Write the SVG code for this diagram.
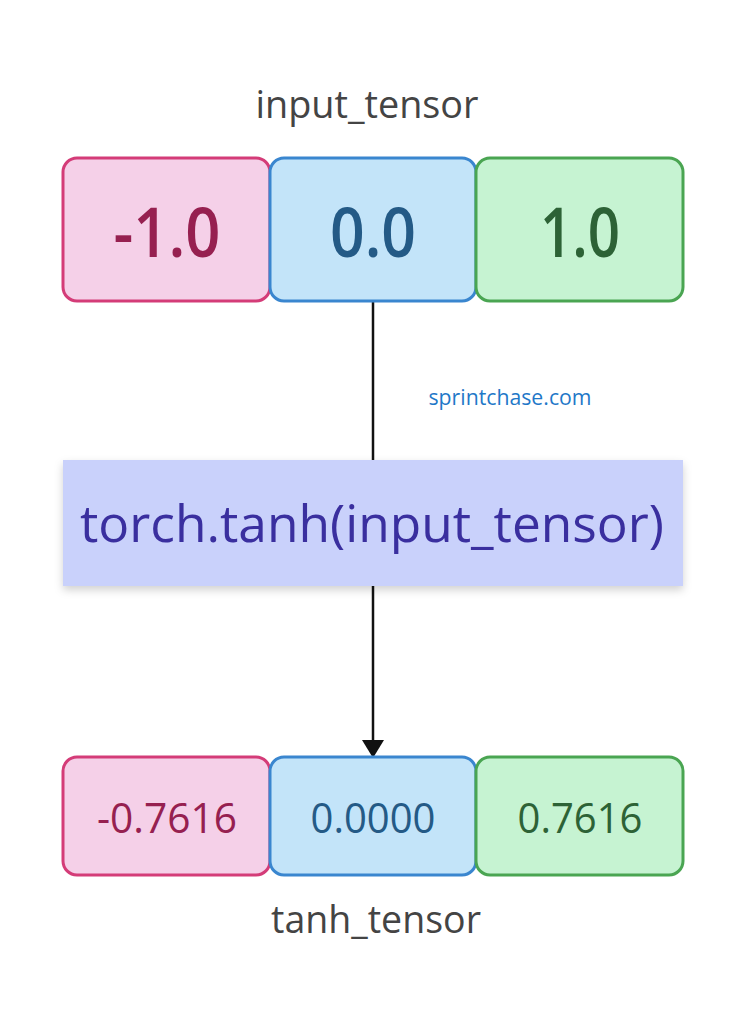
<svg xmlns="http://www.w3.org/2000/svg" width="746" height="1024" viewBox="0 0 746 1024">
<defs>
<style>
text{font-family:"Open Sans","Noto Sans","DejaVu Sans",sans-serif;text-anchor:middle;font-weight:500}
.lbl{font-size:38px;fill:#444444}
.big{font-size:68px;font-weight:600}
.small{font-size:42px}
.pink rect{fill:#f5d0e8;stroke:#d43c78;stroke-width:3}
.pink text{fill:#962050}
.blue rect{fill:#c3e4f9;stroke:#3a86cf;stroke-width:3}
.blue text{fill:#245a86}
.green rect{fill:#c6f3d2;stroke:#4aa552;stroke-width:3}
.green text{fill:#2d6236}
.conn{stroke:#111111;stroke-width:2.5;fill:none}
</style>
<filter id="sh" x="-5%" y="-10%" width="110%" height="130%">
<feDropShadow dx="0" dy="4" stdDeviation="4" flood-color="#000" flood-opacity="0.18"/>
</filter>
</defs>
<rect width="746" height="1024" fill="#ffffff"/>

<g id="label-input"><text class="lbl" x="367" y="118" textLength="223" lengthAdjust="spacingAndGlyphs">input_tensor</text></g>

<g id="connectors">
<line class="conn" x1="373" y1="302" x2="373" y2="460"/>
<path d="M373,586 L373,740" class="conn"/>
<path d="M362,740 L384,740 L373,758 z" fill="#111111"/>
</g>

<g id="in0" class="pink"><rect x="63" y="158" width="207" height="143" rx="14"/><text class="big" x="167" y="257" textLength="107" lengthAdjust="spacingAndGlyphs">-1.0</text></g>
<g id="in1" class="blue"><rect x="270" y="158" width="206" height="143" rx="14"/><text class="big" x="373" y="257" textLength="86" lengthAdjust="spacingAndGlyphs">0.0</text></g>
<g id="in2" class="green"><rect x="476" y="158" width="207" height="143" rx="14"/><text class="big" x="580" y="257" textLength="80" lengthAdjust="spacingAndGlyphs">1.0</text></g>

<g id="watermark"><text x="510" y="405" style="font-size:21px;fill:#1f78c8" textLength="163" lengthAdjust="spacingAndGlyphs">sprintchase.com</text></g>

<g id="op"><rect x="63" y="460" width="620" height="126" fill="#c9d1fb" filter="url(#sh)"/><text x="372" y="542" style="font-size:52px;fill:#3a2f9f" textLength="584" lengthAdjust="spacingAndGlyphs">torch.tanh(input_tensor)</text></g>

<g id="out0" class="pink"><rect x="63" y="757" width="207" height="118" rx="14"/><text class="small" x="167" y="833" textLength="140" lengthAdjust="spacingAndGlyphs">-0.7616</text></g>
<g id="out1" class="blue"><rect x="270" y="757" width="206" height="118" rx="14"/><text class="small" x="373" y="833" textLength="125" lengthAdjust="spacingAndGlyphs">0.0000</text></g>
<g id="out2" class="green"><rect x="476" y="757" width="207" height="118" rx="14"/><text class="small" x="580" y="833" textLength="125" lengthAdjust="spacingAndGlyphs">0.7616</text></g>

<g id="label-output"><text class="lbl" x="376" y="933" textLength="210" lengthAdjust="spacingAndGlyphs">tanh_tensor</text></g>
</svg>
